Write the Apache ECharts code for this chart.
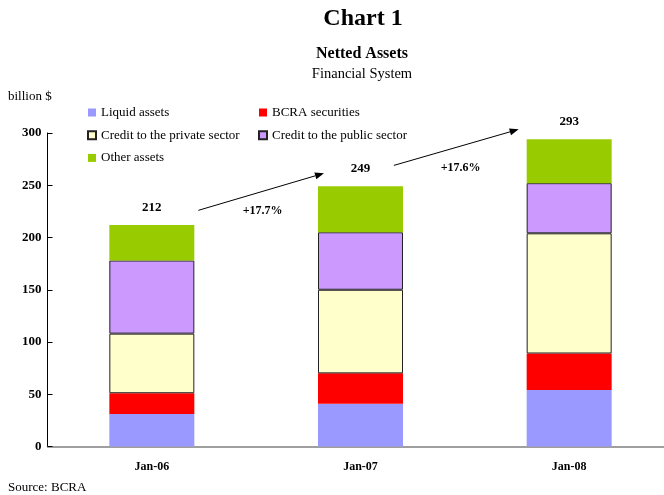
<!DOCTYPE html>
<html>
<head>
<meta charset="utf-8">
<script src="https://cdn.jsdelivr.net/npm/echarts@6/dist/echarts.min.js"></script>
<style>
  html, body { margin: 0; padding: 0; background: #fff; }
  #chart { width: 664px; height: 495px; }
</style>
</head>
<body>
<div id="chart"></div>
<script>
const FONT = '"Liberation Serif", "DejaVu Serif", serif';

const categories = ['Jan-06', 'Jan-07', 'Jan-08'];
const liquidAssets = [31, 41, 54];
const bcraSecurities = [20, 29, 35];
const creditPrivate = [57, 80, 115];
const creditPublic = [70, 55, 48];
const otherAssets = [34, 44, 42];
const totals = [212, 249, 293];
const growth = ['+17.7%', '+17.6%'];
const yTicks = { min: 0, max: 300, interval: 50 };

const chart = echarts.init(document.getElementById('chart'), null, { renderer: 'canvas' });

function bar(name, data, color, outlined) {
    return {
        name: name,
        type: 'bar',
        stack: 'total',
        barWidth: 85,
        data: data,
        itemStyle: {
            color: color,
            borderColor: outlined ? '#222' : color,
            borderWidth: outlined ? 1 : 0
        }
    };
}

const series = [
    bar('Liquid assets', liquidAssets, '#9999FF', false),
    bar('BCRA securities', bcraSecurities, '#FF0000', false),
    bar('Credit to the private sector', creditPrivate, '#FFFFCC', true),
    bar('Credit to the public sector', creditPublic, '#CC99FF', true),
    bar('Other assets', otherAssets, '#99CC00', false)
];
// totals sit above the top segment
series[4].label = {
    show: true,
    position: 'top',
    distance: 11,
    formatter: p => totals[p.dataIndex],
    fontFamily: FONT,
    fontWeight: 'bold',
    fontSize: 13,
    color: '#000'
};

const legendCommon = {
    orient: 'vertical',
    icon: 'rect',
    itemWidth: 8,
    itemHeight: 8,
    itemGap: 9.7,
    top: 106,
    padding: 0,
    selectedMode: false,
    textStyle: { fontFamily: FONT, fontSize: 13, color: '#000' }
};

chart.setOption({
    animation: false,
    backgroundColor: '#fff',
    grid: { left: 47.5, width: 626, top: 133, bottom: 48.5, outerBoundsMode: 'none', containLabel: false },
    legend: [
        Object.assign({ left: 87, data: ['Liquid assets', 'Credit to the private sector', 'Other assets'] }, legendCommon),
        Object.assign({ left: 258, data: ['BCRA securities', 'Credit to the public sector'] }, legendCommon)
    ],
    xAxis: {
        type: 'category',
        data: categories,
        axisLine: { lineStyle: { color: '#808080', width: 1.5 } },
        axisTick: { show: false },
        axisLabel: { fontFamily: FONT, fontWeight: 'bold', fontSize: 12, color: '#000', margin: 14 }
    },
    yAxis: {
        type: 'value',
        min: yTicks.min,
        max: yTicks.max,
        interval: yTicks.interval,
        splitLine: { show: false },
        axisLine: { show: true, lineStyle: { color: '#000', width: 1 } },
        axisTick: { show: true, inside: true, length: 5, lineStyle: { color: '#000' } },
        axisLabel: { fontFamily: FONT, fontWeight: 'bold', fontSize: 13, color: '#000', margin: 6 }
    },
    series: series
});

// annotations: titles, unit, source, growth arrows
const px = (i, v) => chart.convertToPixel({ gridIndex: 0 }, [i, v]);
const cx = categories.map((c, i) => px(i, 0)[0]);
const band = cx[1] - cx[0];
const yv = v => px(0, v)[1];

function arrow(x1, y1, x2, y2) {
    const ang = Math.atan2(y2 - y1, x2 - x1);
    const len = 9, half = 3.5;
    const bx = x2 - len * Math.cos(ang), by = y2 - len * Math.sin(ang);
    const nx = -Math.sin(ang) * half, ny = Math.cos(ang) * half;
    return [
        { type: 'line', shape: { x1: x1, y1: y1, x2: bx, y2: by }, style: { stroke: '#000', lineWidth: 1 } },
        { type: 'polygon', shape: { points: [[x2, y2], [bx + nx, by + ny], [bx - nx, by - ny]] }, style: { fill: '#000' } }
    ];
}

function text(x, y, str, size, weight, align) {
    return {
        type: 'text', x: x, y: y,
        style: {
            text: str, fontFamily: FONT, fontSize: size, fontWeight: weight || 'normal',
            fill: '#000', align: align || 'center', verticalAlign: 'middle'
        }
    };
}

const graphics = [
    text(363, 19, 'Chart 1', 24, 'bold'),
    text(362, 54, 'Netted Assets', 16, 'bold'),
    text(362, 74, 'Financial System', 14.5),
    text(8, 97, 'billion $', 13, 'normal', 'left'),
    text(8, 488, 'Source: BCRA', 13, 'normal', 'left'),
    text(cx[0] + 0.531 * band, yv(225.6), growth[0], 12, 'bold'),
    text(cx[1] + 0.48 * band, yv(266.5), growth[1], 12, 'bold')
].concat(
    arrow(cx[0] + 0.223 * band, yv(226), cx[1] - 0.175 * band, yv(261.5)),
    arrow(cx[1] + 0.16 * band, yv(269), cx[2] - 0.242 * band, yv(303.5))
);

chart.setOption({ graphic: graphics });
</script>
</body>
</html>
